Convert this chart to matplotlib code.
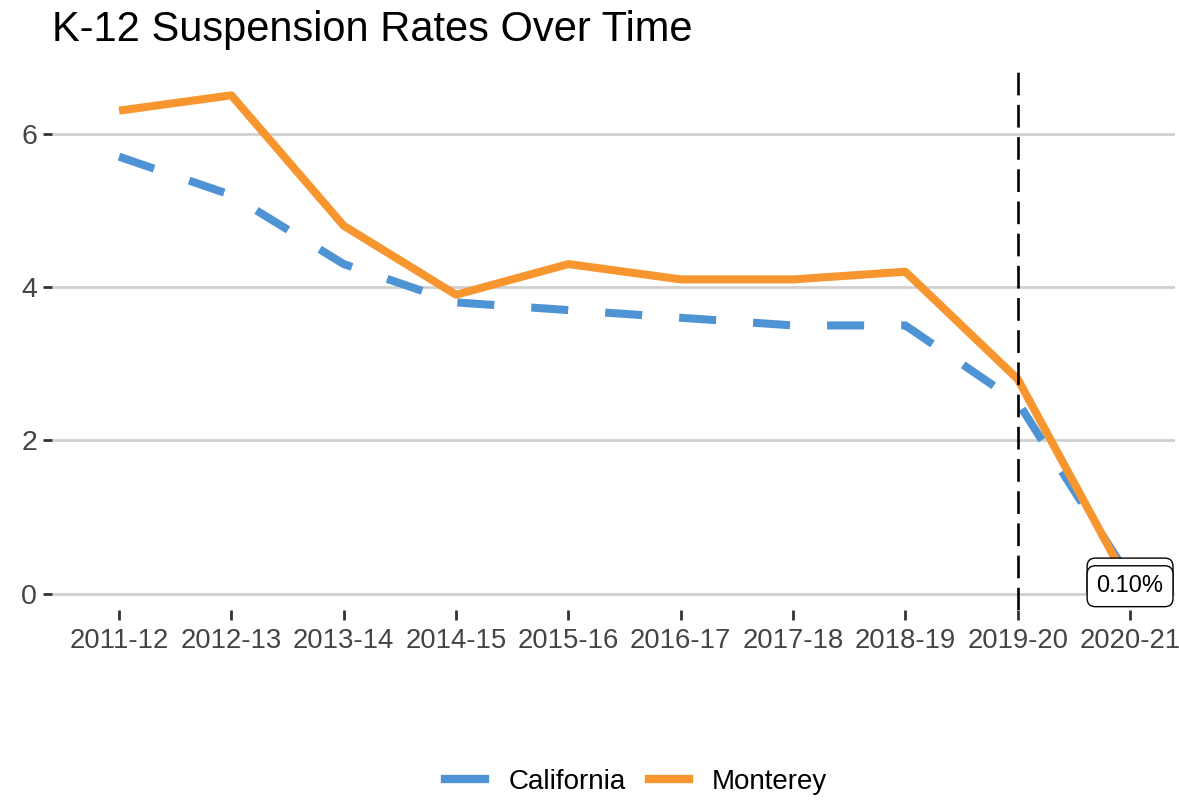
import matplotlib
matplotlib.use("Agg")
import matplotlib.pyplot as plt
from matplotlib.lines import Line2D

years = ["2011-12", "2012-13", "2013-14", "2014-15", "2015-16",
         "2016-17", "2017-18", "2018-19", "2019-20", "2020-21"]
california = [5.7, 5.2, 4.3, 3.8, 3.7, 3.6, 3.5, 3.5, 2.5, 0.2]
monterey = [6.3, 6.5, 4.8, 3.9, 4.3, 4.1, 4.1, 4.2, 2.8, 0.1]
end_labels = ["0.20%", "0.10%"]
y_ticks = [0, 2, 4, 6]
title = "K-12 Suspension Rates Over Time"
marker_year = "2019-20"

plt.rcParams['font.family'] = ['Liberation Sans', 'DejaVu Sans']

BLUE = "#4E94D5"
ORANGE = "#F7962F"

W, H = 1179, 801
fig = plt.figure(figsize=(W / 100, H / 100), dpi=100)
left, right, top, bottom = 51.6, 1175, 70, 610
ax = fig.add_axes([left / W, 1 - bottom / H, (right - left) / W, (bottom - top) / H])

x = list(range(len(years)))
for yv in y_ticks:
    ax.axhline(yv, color="#d0d0d0", lw=2.0, zorder=0)

ax.plot(x, california, color=BLUE, lw=5.8, dashes=(4.6, 4.6), solid_capstyle="butt",
        dash_capstyle="butt", zorder=2, label="California")
ax.plot(x, monterey, color=ORANGE, lw=5.8, solid_capstyle="butt", zorder=3, label="Monterey")

vx = years.index(marker_year)
ax.axvline(vx, ymax=1.0, color="black", lw=1.9, dashes=(8.6, 3.6), zorder=4)

# end labels
for val, lab in zip([california[-1], monterey[-1]], end_labels):
    ax.text(x[-1], val, lab, ha="center", va="center", fontsize=17, zorder=5,
            bbox=dict(boxstyle="round,pad=0.4,rounding_size=0.35", fc="white", ec="black", lw=1.0))

ax.set_xlim(-0.6, len(years) - 1 + 0.4)
ax.set_ylim(-0.21, 6.83)
ax.set_xticks(x)
ax.set_xticklabels(years, fontsize=19.8, color="#444444")
ax.set_yticks(y_ticks)
ax.set_yticklabels([str(v) for v in y_ticks], fontsize=20.5, color="#444444")
ax.tick_params(axis="x", length=7, width=2.0, color="#333333", pad=6, direction="out")
ax.tick_params(axis="y", length=6.5, width=2.0, color="#333333", pad=4)
for s in ax.spines.values():
    s.set_visible(False)
ax.patch.set_alpha(0)

fig.text(52 / W, 1 - 30 / H, title, fontsize=30, ha="left", va="center", color="black")

handles = [Line2D([0], [0], color=BLUE, lw=6), Line2D([0], [0], color=ORANGE, lw=6)]
fig.legend(handles, ["California", "Monterey"], loc="center", bbox_to_anchor=(636 / W, 1 - 782 / H),
           ncol=2, frameon=False, fontsize=20, handlelength=1.44, columnspacing=0.83, handletextpad=0.83)

fig.savefig("out.png", dpi=100, facecolor="white")
